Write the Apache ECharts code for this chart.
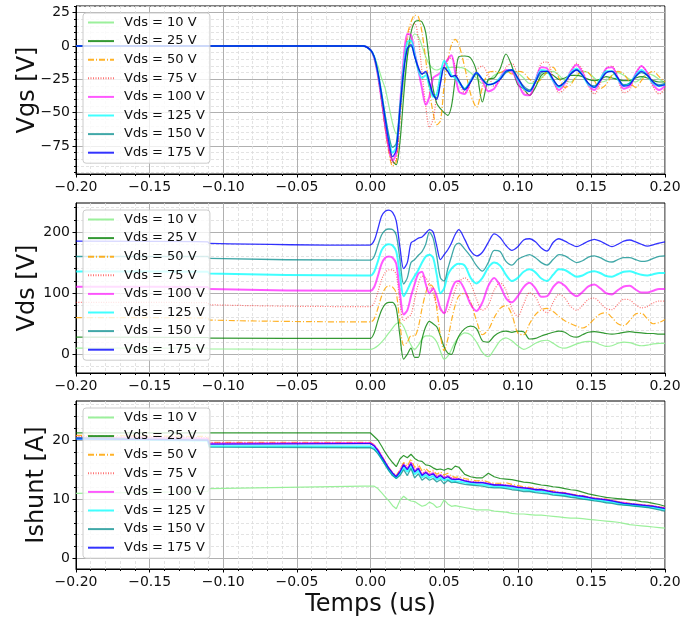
<!DOCTYPE html>
<html><head><meta charset="utf-8">
<script src="https://cdn.jsdelivr.net/npm/echarts@6/dist/echarts.min.js"></script>
<style>html,body{margin:0;padding:0;background:#fff}#c{width:697px;height:619px}</style>
</head><body><div id="c"></div>
<script>
// ---------- categories / names ----------
const seriesNames = ['Vds = 10 V','Vds = 25 V','Vds = 50 V','Vds = 75 V','Vds = 100 V','Vds = 125 V','Vds = 150 V','Vds = 175 V'];
const yTitles = ['Vgs [V]','Vds [V]','Ishunt [A]'];
const xTitle = 'Temps (us)';

// ---------- time samples (us) ----------
const tPre = [-0.2, -0.1105, -0.1095, -0.005];
const tA = [0,0.0025,0.005,0.0075,0.01,0.0125,0.015,0.0175,0.02,0.0225,0.025,0.0275,0.03,0.0325,0.035,0.0375,0.04,0.0425,0.045,0.0475,0.05,0.0525,0.055,0.0575,0.06];
const tB = [0.064,0.068,0.072,0.076,0.08,0.084,0.088,0.092,0.096,0.1,0.104,0.108,0.112,0.116,0.12,0.124,0.128,0.132,0.136,0.14,0.144,0.148,0.152,0.156,0.16,0.164,0.168,0.172,0.176,0.18,0.184,0.188,0.192,0.196,0.2];

// ---------- tick labels ----------
const xTicks = [-0.2,-0.15,-0.1,-0.05,0,0.05,0.1,0.15,0.2];
const vgsTicks = [-75,-50,-25,0,25];
const vgsMinor = [-95,-90,-85,-80,-70,-65,-60,-55,-45,-40,-35,-30,-20,-15,-10,-5,5,10,15,20,30];
const vdsTicks = [0,100,200];
const vdsMinor = [-20,20,40,60,80,120,140,160,180,220,240];
const ishTicks = [0,10,20];
const ishMinor = [2,4,6,8,12,14,16,18,22,24,26];

// ---------- Vgs [V] ----------
const vgs10  = [0,0,0,0, -3,-8,-15,-24,-32,-45,-58,-66,-50,-28,-8,4,9,7,0,-8,-14,-17,-18,-17,-16,-16,-16,-16,-16, -17,-20,-24,-28,-26,-22,-20,-19,-18,-20,-24,-28,-28,-24,-20,-19,-22,-26,-27,-23,-19,-20,-24,-27,-26,-22,-20,-22,-25,-27,-24,-21,-22,-25,-27];
const vgs25  = [0,0,0,0, -3,-8,-21,-40,-60,-76,-86,-89,-72,-38,-8,10,18,19,18,10,-12,-32,-43,-47,-50,-52,-45,-25,-8, -7.5,-9,-19,-42,-25,-24,-17,-6,-15,-29,-32,-37,-31,-22,-20,-22,-25,-24,-22,-22,-23,-25,-26,-25,-23,-24,-25,-26,-26,-24,-23,-24,-26,-27,-27];
const vgs50  = [0,0,0,0, -3,-9,-22,-41,-62,-80,-90,-87,-55,-18,8,18,23,22,10,-10,-33,-50,-59,-56,-30,-11,1,5,1, -16,-36,-46,-31,-20,-19,-20,-18,-21,-19,-20,-25,-27,-25,-19,-16,-24,-31,-29,-22,-19,-20,-26,-32,-29,-22,-19,-21,-27,-31,-26,-21,-19,-23,-27];
const vgs75  = [0,0,0,0, -3,-9,-22,-41,-61,-78,-88,-85,-55,-20,5,15,17,5,-20,-45,-61,-55,-37,-24,-15,-10,-9,-15,-27, -35,-28,-18,-15,-22,-30,-26,-16,-13,-22,-33,-37,-26,-13,-12,-24,-35,-32,-20,-13,-18,-30,-36,-28,-17,-15,-25,-35,-33,-21,-15,-20,-31,-36,-32];
const vgs100 = [0,0,0,0, -3,-9,-22,-40,-60,-77,-86,-80,-45,-10,9,8,-5,-18,-32,-44,-38,-24,-22,-20,-15,-10,-7,-20,-34, -36,-26,-20,-26,-34,-32,-24,-18,-19,-27,-36,-37,-26,-16,-17,-26,-33,-28,-19,-14,-20,-29,-33,-26,-17,-16,-24,-32,-30,-21,-15,-20,-29,-33,-30];
const vgs125 = [0,0,0,0, -3,-8,-20,-36,-54,-70,-80,-76,-47,-16,3,4,-6,-18,-24,-22,-30,-38,-36,-22,-11,-16,-22,-24,-27, -32,-26,-20,-25,-29,-28,-24,-19,-18,-25,-32,-34,-26,-18,-19,-26,-31,-27,-20,-17,-22,-29,-31,-25,-19,-19,-25,-30,-28,-22,-18,-22,-28,-30,-29];
const vgs150 = [0,0,0,0, -3,-8,-19,-35,-52,-67,-76,-73,-46,-18,-2,0,-8,-17,-21,-20,-28,-37,-39,-27,-16,-19,-23,-22,-26, -32,-27,-21,-25,-29,-28,-25,-20,-18,-24,-30,-33,-27,-20,-19,-25,-30,-27,-21,-18,-22,-28,-30,-26,-20,-19,-24,-29,-28,-23,-20,-22,-27,-29,-28];
const vgs175 = [0,0,0,0, -3,-8,-20,-37,-55,-72,-83,-78,-48,-20,-2,1,-8,-16,-21,-19,-27,-36,-40,-28,-16,-19,-23,-22,-26, -33,-27,-20,-25,-29,-28,-25,-19,-18,-24,-31,-34,-27,-19,-19,-25,-30,-27,-21,-18,-22,-28,-31,-26,-20,-19,-24,-30,-29,-23,-19,-22,-27,-30,-29];

// ---------- Vds [V] ----------
const vds10  = [10,10,9,8, 8,10,14,20,27,35,43,50,52,45,30,15,8,15,25,30,30,28,20,5,-8,-3,8,20,28, 35,32,20,3,-4,8,22,27,22,14,8,12,18,22,23,18,12,10,13,17,20,21,20,16,13,14,18,20,19,16,14,15,17,18,18];
const vds25  = [28,27.5,26.5,26, 26,35,55,72,82,85,85,75,30,-8,0,10,-5,-5,25,45,54,50,45,30,12,2,0,15,30, 42,46,42,22,20,30,36,38,36,38,37,25,26,30,33,36,38,36,30,28,32,36,37,36,34,33,34,36,37,36,35,34,34,33,33];
const vds50  = [60,59.5,56,53, 53,58,75,95,108,112,110,100,50,15,20,30,30,45,75,100,115,110,75,30,6,25,55,80,95, 100,85,55,32,40,60,75,80,65,35,32,50,65,73,75,70,62,55,50,46,43,48,58,66,68,60,50,47,55,66,67,58,50,52,57];
const vds75  = [85,84.5,81,78, 78,84,102,122,134,138,138,130,85,55,60,65,90,115,128,125,115,100,80,72,68,70,85,105,118, 125,115,90,72,80,105,117,105,75,62,82,101,94,75,68,85,98,92,78,72,80,90,92,84,75,73,82,90,89,81,76,78,84,87,87];
const vds100 = [110.5,110,107,104, 104,110,128,148,158,160,158,148,100,65,72,95,115,132,135,115,100,108,95,75,67,85,105,118,120, 105,82,71,85,112,125,112,92,85,95,110,117,108,94,95,110,118,112,101,95,102,111,114,108,100,98,105,111,112,106,101,101,104,107,107];
const vds125 = [135.5,135,132,129, 129,135,152,170,178,180,178,168,130,95,105,118,128,138,150,160,163,158,130,100,108,130,140,146,148, 145,125,116,125,142,150,145,130,120,125,135,139,134,124,120,130,139,138,132,127,129,134,136,133,128,127,131,135,136,133,130,129,131,133,133];
const vds150 = [160,160,157,154, 154,160,178,195,203,205,204,195,155,115,125,150,155,162,168,180,200,190,160,125,120,140,160,178,182, 172,160,145,136,150,170,168,152,146,155,160,163,158,150,146,155,163,161,155,150,153,159,161,158,153,151,155,158,158,155,152,153,157,160,161];
const vds175 = [185,184,181.5,178.5, 179,186,205,226,234,236,232,218,175,140,150,182,186,190,192,198,204,200,177,155,163,171,182,196,204, 188,169,161,167,183,197,191,178,170,176,187,189,184,174,169,183,189,185,180,176,180,185,188,185,180,176,180,185,187,184,180,177,179,182,184];

// ---------- Ishunt [A] ----------
const ish10  = [11.0,11.3,11.8,12.2, 12.2,12.2,11.8,11.1,10.4,9.7,8.9,8.4,9.8,10.5,10.0,9.7,9.6,9.2,8.8,9.0,9.5,9.2,8.6,8.8,9.9,9.2,8.8,8.9,8.8, 8.6,8.4,8.2,8.2,8.2,8.0,7.9,7.8,7.6,7.5,7.5,7.4,7.3,7.3,7.2,7.1,7.0,6.9,6.8,6.8,6.7,6.6,6.5,6.4,6.3,6.2,6.1,5.9,5.7,5.6,5.5,5.4,5.3,5.2,5.1];
const ish25  = [21.2,21.2,21.3,21.2, 21.2,20.6,20.0,19.0,17.9,17.0,16.2,15.5,16.8,17.4,17.0,17.6,16.9,16.5,16.4,15.8,15.7,15.3,15.0,15.1,14.9,15.2,15.0,15.6,15.4, 14.2,13.8,13.6,13.6,14.4,13.8,13.5,13.4,13.3,13.1,12.9,12.8,12.6,12.4,12.3,12.1,12.0,11.8,11.6,11.5,11.2,10.9,10.7,10.5,10.3,10.2,10.1,10.0,9.9,9.8,9.6,9.5,9.3,9.1,8.8];
const ish50  = [20.8,20.6,19.6,19.6, 19.6,19.2,18.4,17.4,16.3,15.3,14.5,14.0,15.0,16.2,15.6,16.8,15.4,15.9,14.8,15.2,14.6,14.9,14.2,14.6,14.1,14.4,13.9,13.7,13.8, 13.5,13.3,13.1,13.2,12.9,12.7,12.7,12.8,12.5,12.3,12.1,12.0,11.8,11.7,11.5,11.4,11.2,11.1,10.9,10.7,10.6,10.4,10.2,10.1,10.0,9.8,9.6,9.4,9.3,9.2,9.1,9.0,8.9,8.7,8.5];
const ish75  = [20.6,20.4,19.5,19.5, 19.5,19.1,18.3,17.3,16.2,15.2,14.4,13.9,14.8,16.0,15.2,16.3,14.9,15.5,14.3,14.8,14.2,14.6,13.9,14.2,13.7,14.0,13.6,13.5,13.5, 13.2,13.0,12.9,12.9,12.7,12.5,12.5,12.4,12.3,12.1,12.0,11.9,11.7,11.6,11.4,11.3,11.1,11.0,10.8,10.7,10.5,10.3,10.2,10.0,9.9,9.7,9.5,9.4,9.3,9.1,9.0,8.9,8.8,8.7,8.5];
const ish100 = [20.4,20.2,19.4,19.5, 19.5,19.1,18.3,17.3,16.2,15.2,14.4,13.8,14.7,15.9,15.1,16.2,14.7,15.3,14.1,14.6,14.1,14.4,13.7,14.1,13.6,13.9,13.5,13.4,13.4, 13.1,12.9,12.8,12.8,12.6,12.4,12.4,12.3,12.2,12.0,11.9,11.8,11.6,11.6,11.4,11.2,11.1,11.0,10.8,10.6,10.5,10.3,10.1,10.0,9.9,9.7,9.5,9.4,9.2,9.1,9.0,8.9,8.8,8.6,8.5];
const ish125 = [20.2,19.9,19.0,18.9, 18.9,18.6,17.9,16.9,15.9,14.9,14.1,13.6,14.3,15.4,14.6,15.5,14.2,14.8,13.7,14.1,13.6,13.9,13.3,13.6,13.2,13.4,13.1,13.0,13.0, 12.8,12.6,12.5,12.5,12.3,12.1,12.1,12.0,11.9,11.7,11.6,11.5,11.3,11.3,11.1,10.9,10.8,10.7,10.5,10.4,10.2,10.0,9.9,9.8,9.6,9.5,9.3,9.1,9.0,8.9,8.8,8.7,8.6,8.4,8.2];
const ish150 = [20.4,20.0,18.8,18.7, 18.7,18.4,17.7,16.8,15.8,14.8,14.0,13.5,14.0,15.0,14.0,15.2,13.6,14.3,13.2,13.7,13.2,13.5,12.9,13.3,12.6,13.2,12.8,12.9,12.7, 12.5,12.4,12.3,12.2,12.0,11.9,11.9,11.8,11.6,11.5,11.3,11.3,11.1,11.0,10.9,10.7,10.6,10.5,10.3,10.2,10.0,9.9,9.7,9.6,9.4,9.3,9.1,9.0,8.9,8.8,8.7,8.6,8.4,8.2,8.0];
const ish175 = [20.2,20.0,19.3,19.4, 19.4,19.0,18.2,17.2,16.2,15.2,14.4,13.8,14.6,15.8,15.0,16.0,14.6,15.2,14.0,14.5,14.0,14.3,13.6,14.0,13.5,13.8,13.4,13.3,13.4, 13.1,12.9,12.8,12.8,12.6,12.4,12.4,12.3,12.2,12.0,11.9,11.8,11.6,11.6,11.4,11.2,11.1,11.0,10.8,10.6,10.5,10.3,10.1,10.0,9.9,9.7,9.5,9.3,9.2,9.1,9.0,8.9,8.8,8.6,8.4];

// ---------- build ----------
const time = tPre.concat(tA, tB);
const panels = [
  {vals:[vgs10,vgs25,vgs50,vgs75,vgs100,vgs125,vgs150,vgs175], min:-96, max:30, ticks:vgsTicks, minor:vgsMinor, smooth:0.3, nameGap:36},
  {vals:[vds10,vds25,vds50,vds75,vds100,vds125,vds150,vds175], min:-30.6, max:247.5, ticks:vdsTicks, minor:vdsMinor, smooth:0.3, nameGap:36},
  {vals:[ish10,ish25,ish50,ish75,ish100,ish125,ish150,ish175], min:-1.8, max:26.6, ticks:ishTicks, minor:ishMinor, smooth:false, nameGap:27}
];
const gridPos = [{top:6,height:168},{top:203,height:170},{top:401,height:168}];
const legendTop = [13,210,408];
const styles = [
  {color:'#90ee90', width:1.2, type:'solid', opacity:0.9},
  {color:'#008000', width:1.2, type:'solid', opacity:0.8},
  {color:'#ffa500', width:1.2, type:[6,2,1,2], opacity:0.85},
  {color:'#ff0000', width:1.2, type:[1,1.5], opacity:0.55},
  {color:'#ff00ff', width:2, type:'solid', opacity:0.65},
  {color:'#00ffff', width:2, type:'solid', opacity:0.75},
  {color:'#008b8b', width:1.3, type:'solid', opacity:0.75},
  {color:'#0000ff', width:1.3, type:'solid', opacity:0.8}
];
const FONT = 'DejaVu Sans';
const INK = '#111';
const minusFmt = (v, d) => {
  if (Math.abs(v) < 1e-9) v = 0;
  const s = Math.abs(v).toFixed(d);
  return (v < 0 ? '\u2212' : '') + s;
};

const grid = [], xAxis = [], yAxis = [], series = [], legend = [];
panels.forEach((p, i) => {
  grid.push({left:76, width:589, top:gridPos[i].top, height:gridPos[i].height, show:true, borderColor:'#000', borderWidth:1, backgroundColor:'#fff', containLabel:false});
  xAxis.push({
    type:'value', gridIndex:i, min:xTicks[0], max:xTicks[xTicks.length-1], interval:0.05,
    axisLine:{show:true, onZero:false, lineStyle:{color:'#000', width:1}},
    axisTick:{show:true, inside:false, length:3.5, lineStyle:{color:'#000'}},
    minorTick:{show:true, splitNumber:5, length:2, lineStyle:{color:'#000'}},
    splitLine:{show:true, lineStyle:{color:'#b0b0b0', width:1}},
    minorSplitLine:{show:true, lineStyle:{color:'#dcdcdc', width:0.8, type:[3,2]}},
    axisLabel:{fontSize:14, color:INK, fontFamily:FONT, margin:6, formatter:v => minusFmt(v,2)},
    name: i === 2 ? xTitle : '', nameLocation:'middle', nameGap:24, nameMoveOverlap:false,
    nameTextStyle:{fontSize:24, color:INK, fontFamily:FONT}
  });
  // minor y axis
  yAxis.push({
    type:'value', gridIndex:i, min:p.min, max:p.max, position:'left',
    axisLine:{show:false, onZero:false},
    axisTick:{show:true, inside:false, length:2, customValues:p.minor, lineStyle:{color:'#000'}},
    axisLabel:{show:false, customValues:p.minor},
    splitLine:{show:true, lineStyle:{color:'#dcdcdc', width:0.8, type:[3,2]}}
  });
  // major y axis
  yAxis.push({
    type:'value', gridIndex:i, min:p.min, max:p.max, position:'left',
    axisLine:{show:true, onZero:false, lineStyle:{color:'#000', width:1}},
    axisTick:{show:true, inside:false, length:3.5, customValues:p.ticks, lineStyle:{color:'#000'}},
    axisLabel:{customValues:p.ticks, fontSize:14, color:INK, fontFamily:FONT, margin:6, formatter:v => minusFmt(v,0)},
    splitLine:{show:true, lineStyle:{color:'#b0b0b0', width:1}},
    name:yTitles[i], nameLocation:'middle', nameGap:p.nameGap, nameMoveOverlap:false,
    nameTextStyle:{fontSize:24, color:INK, fontFamily:FONT}
  });
  legend.push({
    data:seriesNames, orient:'vertical', left:83, top:legendTop[i],
    itemWidth:26, itemHeight:10, itemGap:3.6, padding:[2,5,3,4],
    backgroundColor:'rgba(255,255,255,0.8)', borderColor:'#cccccc', borderWidth:1, borderRadius:3,
    itemStyle:{opacity:0},
    textStyle:{fontSize:13, color:INK, fontFamily:FONT, lineHeight:15, padding:[0,0,0,5]}
  });
  p.vals.forEach((vals, k) => {
    const st = styles[k];
    series.push({
      type:'line', name:seriesNames[k], xAxisIndex:i, yAxisIndex:2*i+1,
      data: time.map((t, j) => [t, vals[j]]),
      symbol:'none', showSymbol:false, smooth:p.smooth, clip:true,
      lineStyle:{color:st.color, width:st.width, type:st.type, opacity:st.opacity},
      itemStyle:{color:st.color}, z:2+k*0.01
    });
  });
});

const chart = echarts.init(document.getElementById('c'), null, {renderer:'canvas'});
chart.setOption({
  animation:false, backgroundColor:'#fff',
  textStyle:{fontFamily:FONT},
  grid, xAxis, yAxis, legend, series
});
</script>
</body></html>
